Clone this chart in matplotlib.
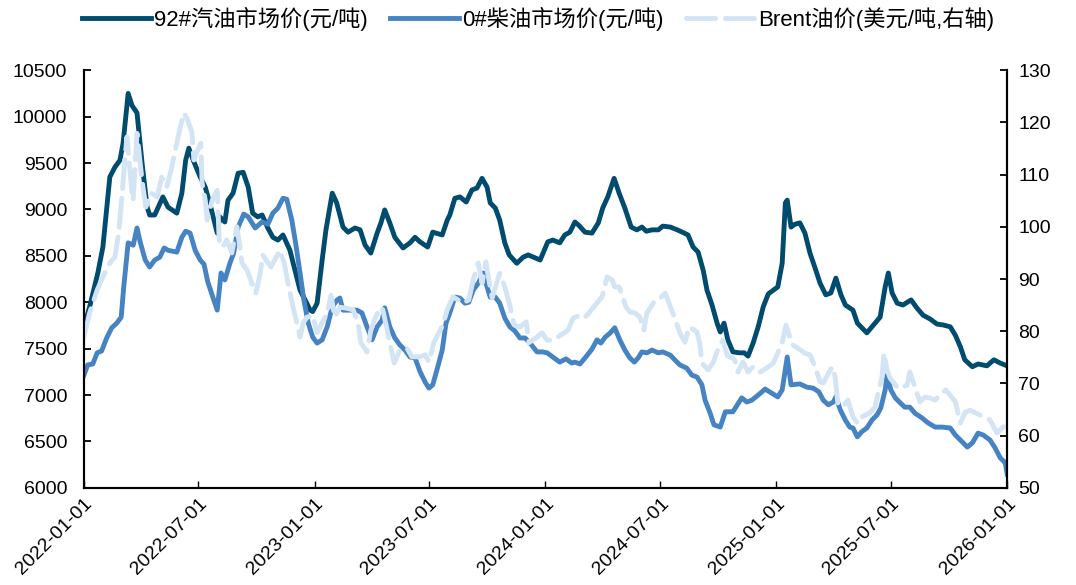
import numpy as np
import pandas as pd
import matplotlib
matplotlib.use("Agg")
import matplotlib.pyplot as plt
import matplotlib.dates as mdates

plt.rcParams['font.family'] = ['Liberation Sans', 'Noto Sans CJK SC']
plt.rcParams['axes.unicode_minus'] = False

# ---- data, dates as days after 2022-01-01 ----
days_92 = [0, 9, 22, 30, 41, 49, 57, 62, 70, 76, 84, 92, 100, 104, 112, 125, 133, 147, 155, 161,
           166, 173, 184, 192, 199, 211, 215, 223, 228, 236, 244, 252, 260, 267, 275, 282, 291, 299, 307, 315,
           326, 334, 342, 350, 358, 362, 369, 377, 383, 393, 400, 410, 418, 429, 437, 445, 454, 464, 470, 476,
           484, 492, 505, 516, 524, 532, 544, 552, 567, 575, 579, 587, 595, 605, 614, 622, 630, 638, 643, 651,
           658, 666, 673, 685, 695, 703, 722, 734, 742, 753, 761, 769, 777, 783, 793, 804, 814, 821, 829, 839,
           847, 856, 866, 875, 883, 890, 899, 909, 916, 928, 939, 947, 956, 964, 972, 980, 986, 994, 1002, 1007,
           1013, 1019, 1027, 1038, 1045, 1051, 1059, 1067, 1075, 1083, 1098, 1105, 1110, 1113, 1119, 1125, 1133, 1141, 1149, 1157,
           1165, 1174, 1182, 1190, 1198, 1205, 1217, 1224, 1239, 1247, 1260, 1268, 1273, 1279, 1287, 1296, 1309, 1318, 1328, 1339,
           1350, 1360, 1371, 1379, 1387, 1394, 1406, 1415, 1429, 1440, 1450, 1461]
p92 = [7730, 7950, 8315, 8595, 9350, 9455, 9530, 9715, 10250, 10120, 10040, 9500, 9025, 8940, 8940, 9135, 9025, 8960, 9175, 9530,
       9660, 9530, 9350, 9240, 9070, 8745, 8920, 8865, 9100, 9175, 9390, 9400, 9240, 8960, 8920, 8940, 8800, 8700, 8670, 8725,
       8560, 8345, 8130, 8025, 7915, 7900, 7990, 8455, 8780, 9175, 9070, 8810, 8755, 8800, 8780, 8615, 8530, 8745, 8855, 8995,
       8855, 8700, 8585, 8640, 8700, 8650, 8595, 8755, 8725, 8885, 8940, 9120, 9135, 9080, 9210, 9230, 9335, 9240, 9070, 9015,
       8885, 8640, 8510, 8420, 8485, 8510, 8455, 8650, 8670, 8640, 8725, 8755, 8865, 8830, 8755, 8745, 8855, 9015, 9135, 9335,
       9175, 9015, 8810, 8780, 8810, 8765, 8780, 8780, 8820, 8810, 8780, 8755, 8725, 8595, 8540, 8345, 8130, 7970, 7775, 7680,
       7775, 7595, 7465, 7455, 7455, 7420, 7560, 7735, 7950, 8090, 8165, 8420, 9070, 9100, 8810, 8840, 8855, 8745, 8530, 8370,
       8205, 8080, 8100, 8260, 8080, 7970, 7915, 7775, 7670, 7735, 7840, 8165, 8315, 8100, 7990, 7970, 8025, 7940, 7860, 7820,
       7765, 7755, 7735, 7645, 7520, 7380, 7305, 7335, 7315, 7380, 7345, 7315]

days_0 = [0, 6, 14, 21, 28, 36, 44, 52, 59, 63, 70, 78, 84, 89, 97, 104, 112, 120, 127, 133,
          147, 155, 161, 168, 176, 184, 190, 196, 204, 211, 217, 223, 231, 237, 244, 253, 260, 271, 282, 291,
          299, 307, 315, 321, 329, 336, 342, 348, 355, 362, 369, 377, 385, 393, 400, 405, 410, 421, 432, 440,
          448, 456, 464, 472, 476, 484, 492, 500, 508, 516, 524, 532, 540, 546, 552, 560, 567, 573, 579, 587,
          595, 603, 609, 616, 624, 632, 638, 643, 651, 658, 666, 674, 682, 690, 698, 706, 717, 726, 733, 742,
          753, 763, 772, 777, 785, 793, 804, 812, 818, 825, 833, 840, 848, 856, 864, 871, 877, 883, 891, 899,
          909, 916, 928, 935, 943, 954, 962, 970, 978, 983, 991, 997, 1007, 1015, 1027, 1034, 1041, 1049, 1057, 1067,
          1078, 1085, 1098, 1105, 1113, 1119, 1133, 1144, 1154, 1163, 1170, 1178, 1186, 1190, 1197, 1205, 1212, 1217, 1224, 1231,
          1239, 1247, 1255, 1261, 1268, 1271, 1277, 1284, 1292, 1299, 1307, 1315, 1326, 1336, 1347, 1358, 1371, 1379, 1387, 1398,
          1406, 1415, 1423, 1434, 1442, 1450, 1458, 1461]
p0 = [7215, 7325, 7335, 7455, 7475, 7615, 7725, 7775, 7840, 8165, 8640, 8615, 8800, 8650, 8455, 8380, 8455, 8485, 8585, 8560,
      8540, 8700, 8765, 8745, 8560, 8455, 8410, 8220, 8055, 7915, 8315, 8240, 8420, 8530, 8810, 8950, 8920, 8800, 8865, 8840,
      8960, 9015, 9120, 9110, 8885, 8595, 8315, 8025, 7775, 7625, 7560, 7595, 7735, 7950, 8020, 8045, 7915, 7915, 7915, 7885,
      7735, 7595, 7735, 7810, 7940, 7735, 7615, 7540, 7485, 7410, 7400, 7250, 7140, 7075, 7110, 7305, 7485, 7775, 7885, 8055,
      8045, 7990, 8000, 8130, 8205, 8315, 8165, 8055, 8055, 7990, 7830, 7735, 7690, 7615, 7615, 7560, 7465, 7465, 7455, 7410,
      7355, 7390, 7345, 7355, 7335, 7400, 7495, 7595, 7560, 7625, 7670, 7725, 7595, 7485, 7400, 7355, 7400, 7465, 7455, 7485,
      7455, 7465, 7430, 7380, 7325, 7290, 7215, 7195, 7110, 6945, 6805, 6680, 6655, 6820, 6820, 6895, 6970, 6925, 6945, 7000,
      7065, 7035, 6980, 7055, 7410, 7110, 7120, 7085, 7075, 7035, 6945, 6895, 6925, 6980, 6840, 6730, 6655, 6645, 6550, 6605,
      6645, 6730, 6785, 6860, 7055, 7215, 7055, 6970, 6915, 6870, 6870, 6805, 6755, 6700, 6655, 6655, 6645, 6570, 6515, 6440,
      6485, 6590, 6570, 6515, 6430, 6325, 6270, 6150]

days_brent = [0, 9, 21, 30, 41, 49, 55, 60, 63, 68, 71, 76, 78, 84, 89, 93, 98, 106, 116, 123,
              131, 139, 149, 158, 163, 171, 174, 180, 185, 187, 192, 195, 203, 211, 214, 220, 226, 234, 242, 247,
              250, 258, 266, 272, 279, 283, 290, 296, 310, 317, 323, 331, 337, 342, 347, 353, 362, 369, 377, 385,
              391, 397, 405, 416, 426, 434, 438, 448, 454, 461, 469, 473, 480, 484, 491, 500, 511, 519, 532, 540,
              546, 554, 568, 575, 584, 592, 600, 609, 616, 624, 630, 636, 639, 646, 658, 666, 673, 681, 690, 700,
              704, 717, 725, 733, 742, 750, 766, 774, 785, 793, 799, 820, 828, 836, 840, 847, 858, 864, 872, 880,
              886, 891, 901, 912, 920, 935, 943, 951, 958, 970, 975, 978, 988, 996, 1003, 1011, 1018, 1026, 1030, 1035,
              1043, 1051, 1059, 1070, 1081, 1091, 1105, 1111, 1117, 1122, 1141, 1149, 1157, 1165, 1170, 1184, 1189, 1193, 1201, 1209,
              1217, 1224, 1228, 1244, 1252, 1258, 1263, 1266, 1271, 1276, 1288, 1296, 1303, 1307, 1323, 1331, 1339, 1347, 1355, 1364,
              1379, 1387, 1394, 1402, 1434, 1445, 1455, 1461]
brent = [78.9, 83.5, 87.9, 90.4, 93.1, 94.2, 98.8, 105.7, 110.3, 117.2, 113.4, 106.5, 105.1, 117.9, 112.2, 108.0, 103.8, 106.5, 105.7, 109.5,
         107.6, 111.4, 117.2, 121.8, 120.8, 118.1, 112.8, 114.7, 116.0, 108.4, 105.1, 101.3, 105.1, 107.0, 97.5, 96.1, 97.5, 95.0, 100.0, 96.1,
         93.1, 91.7, 89.2, 87.3, 91.1, 94.6, 93.3, 92.3, 95.5, 93.1, 89.2, 84.6, 81.6, 78.9, 81.6, 82.7, 83.0, 79.7, 81.6, 83.5,
         86.9, 82.7, 84.6, 84.4, 84.1, 81.6, 77.9, 76.0, 80.2, 82.5, 84.6, 84.1, 80.2, 77.8, 73.9, 76.4, 76.8, 75.1, 75.1, 75.5,
         74.1, 77.9, 81.2, 84.1, 86.6, 86.0, 85.4, 86.0, 89.8, 93.1, 89.2, 93.3, 91.1, 86.4, 91.1, 88.5, 85.4, 81.2, 80.8, 81.8,
         77.8, 78.9, 79.7, 78.3, 78.3, 78.9, 80.2, 82.5, 83.1, 82.7, 83.5, 86.6, 90.4, 89.8, 88.5, 88.5, 84.6, 83.7, 83.5, 82.7,
         80.2, 83.5, 85.4, 86.4, 87.3, 82.5, 79.7, 77.9, 80.8, 79.9, 77.4, 73.9, 72.6, 74.1, 76.4, 78.3, 75.3, 74.9, 74.5, 72.2,
         74.1, 72.2, 73.2, 72.2, 73.0, 73.9, 77.8, 81.2, 78.9, 77.4, 75.8, 75.5, 73.2, 70.3, 70.1, 73.2, 71.2, 66.3, 65.5, 66.8,
         63.6, 62.4, 63.4, 64.4, 65.5, 68.8, 71.2, 75.8, 72.6, 71.0, 69.1, 69.3, 69.7, 72.2, 66.5, 67.4, 67.2, 66.8, 67.8, 68.8,
         66.5, 62.4, 64.4, 64.9, 63.0, 60.5, 61.7, 61.7]

labels = ['92#汽油市场价(元/吨)', '0#柴油市场价(元/吨)', 'Brent油价(美元/吨,右轴)']
colors = ['#004b6e', '#4683c2', '#d3e5f4']

base = pd.Timestamp('2022-01-01')
def to_dates(d):
    return base + pd.to_timedelta(np.array(d), unit='D')

fig = plt.figure(figsize=(10.76, 5.85), dpi=100)
ax1 = fig.add_axes([0.078, 0.166, 0.858, 0.714])
ax2 = ax1.twinx()

l1, = ax1.plot(to_dates(days_92), p92, color=colors[0], lw=3.5, solid_joinstyle='round')
l2, = ax1.plot(to_dates(days_0), p0, color=colors[1], lw=3.5, solid_joinstyle='round')
l3, = ax2.plot(to_dates(days_brent), brent, color=colors[2], lw=3.5, dashes=(6, 2), dash_capstyle='round')

ax1.set_ylim(6000, 10500)
ax1.set_yticks(np.arange(6000, 10501, 500))
ax2.set_ylim(50, 130)
ax2.set_yticks(np.arange(50, 131, 10))

ax1.set_xlim(pd.Timestamp('2022-01-01'), pd.Timestamp('2026-01-01'))
xt = pd.date_range('2022-01-01', '2026-01-01', freq='6MS')
ax1.set_xticks(xt)
ax1.xaxis.set_major_formatter(mdates.DateFormatter('%Y-%m-%d'))

for ax in (ax1, ax2):
    ax.spines['top'].set_visible(False)
    for s in ax.spines.values():
        s.set_linewidth(1.5)
ax1.tick_params(axis='y', direction='in', length=5, width=1.3, labelsize=14, pad=12)
ax2.tick_params(axis='y', direction='in', length=5, width=1.3, labelsize=14, pad=8)
ax1.tick_params(axis='x', direction='in', length=5, width=1.0, labelsize=14, pad=5)
for t in ax1.get_xticklabels():
    t.set_rotation(45)
    t.set_ha('right')
    t.set_va('top')
    t.set_rotation_mode('anchor')

fig.legend([l1, l2, l3], labels, loc='center', bbox_to_anchor=(0.5, 0.968), ncol=3, frameon=False,
           fontsize=16, handlelength=3.1, handletextpad=0.15, columnspacing=1.0)

fig.savefig('out.png', dpi=100)
